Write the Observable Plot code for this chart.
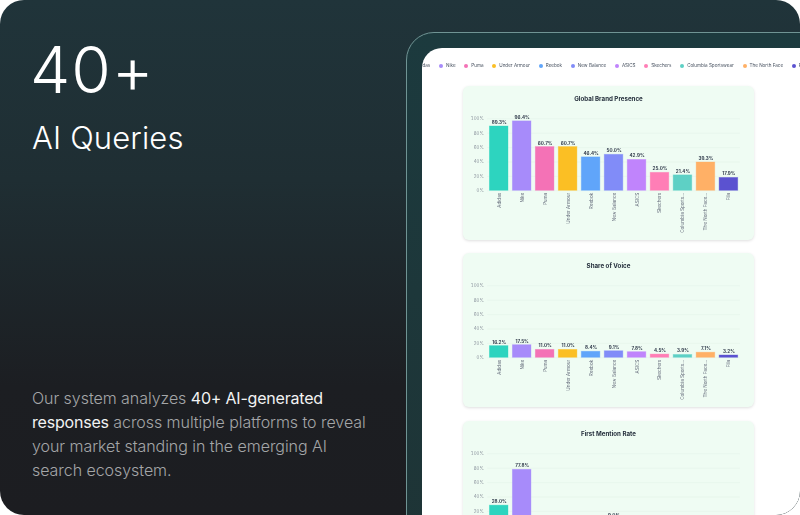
<!DOCTYPE html>
<html><head><meta charset="utf-8">
<script src="https://cdn.jsdelivr.net/npm/d3@7"></script>
<script src="https://cdn.jsdelivr.net/npm/@observablehq/plot@0.6"></script>
<style>
html,body{margin:0;padding:0;width:800px;height:515px;overflow:hidden;background:#fff;}
#root{position:relative;width:800px;height:515px;overflow:hidden;border-radius:24px;
 background:linear-gradient(180deg,#20343a 0%,#1f2e33 35%,#1c1e22 75%,#1c1d21 100%);font-family:Inter,sans-serif;color:#fff;}
#big{position:absolute;left:30px;top:33px;font-size:64px;line-height:74px;font-weight:300;letter-spacing:1px}
#sub{position:absolute;left:32px;top:120px;font-size:31px;line-height:36px;font-weight:300;letter-spacing:.15px}
#para{position:absolute;left:32px;top:386px;font-size:16px;line-height:24px;color:#a4a6a8;font-weight:300;width:350px;white-space:nowrap;letter-spacing:-.05px}
#para b{color:#f2f3f3;font-weight:400;letter-spacing:-.2px}
#frame{position:absolute;left:406px;top:32px;width:430px;height:520px;border:1px solid #6f9494;border-radius:28px;
 background:linear-gradient(180deg,#1c3a3e,#1e3436);box-sizing:border-box}
#panel{position:absolute;left:422px;top:48px;width:420px;height:500px;background:#fff;border-radius:20px 0 0 0;overflow:hidden;filter:blur(.4px)}
#legend{position:absolute;left:-13.7px;top:14px;display:flex;white-space:nowrap;font-size:4.6px;line-height:8px;color:#4b5563}
#legend span.i{display:inline-flex;align-items:center;margin-right:8.7px}
#legend i{display:inline-block;width:4px;height:4px;border-radius:50%;margin-right:3px}
.card{position:absolute;left:41px;width:291px;height:154px;background:#effcf3;border-radius:6px;box-shadow:0 1px 3px rgba(0,0,0,.13)}
.card h4{position:absolute;left:0;right:0;top:9px;margin:0;text-align:center;font-size:6.2px;line-height:8px;font-weight:700;color:#1f2937}
.card svg{position:absolute;left:0;top:0;background:transparent;overflow:visible}
</style></head><body>
<div id="root">
 <div id="big">40+</div>
 <div id="sub">AI Queries</div>
 <div id="para">Our system analyzes <b>40+ AI-generated</b><br><b>responses</b> across multiple platforms to reveal<br>your market standing in the emerging AI<br>search ecosystem.</div>
 <div id="frame"></div>
 <div id="panel"><div id="legend"></div></div>
</div>
<script>
const brands = ["Adidas","Nike","Puma","Under Armour","Reebok","New Balance","ASICS","Skechers","Columbia Sportswear","The North Face","Fila"];
const tickLabels = ["Adidas","Nike","Puma","Under Armour","Reebok","New Balance","ASICS","Skechers","Columbia Sports...","The North Face...","Fila"];
const colors = ["#2dd4bf","#a78bfa","#f472b6","#fbbf24","#60a5fa","#818cf8","#c084fc","#ff7eb6","#5ed0c5","#ffb066","#5b52d0"];
const presence = [89.3,96.4,60.7,60.7,46.4,50.0,42.9,25.0,21.4,39.3,17.9];
const voice = [16.2,17.5,11.0,11.0,8.4,9.1,7.8,4.5,3.9,7.1,3.2];
// Only these bars of the third chart are inside the picture; the rest are cropped away.
const firstMention = [28.0,77.8,null,null,null,9.0,null,null,null,null,null];
const charts = [
 {title:"Global Brand Presence",values:presence,top:38},
 {title:"Share of Voice",values:voice,top:205},
 {title:"First Mention Rate",values:firstMention,top:372.7}
];
const legend = d3.select("#legend");
brands.forEach((b,i)=>{
  const s = legend.append("span").attr("class","i");
  s.append("i").style("background",colors[i]);
  s.append("span").text(b);
});
const panel = d3.select("#panel");
for (const c of charts) {
  const data = tickLabels.map((label,i)=>({label,value:c.values[i],color:colors[i]})).filter(d=>d.value!=null);
  const card = panel.append("div").attr("class","card").style("top",c.top+"px");
  card.append("h4").text(c.title);
  const svg = Plot.plot({
    width:291,height:154,marginLeft:24.2,marginRight:14.1,marginTop:32.3,marginBottom:49.7,
    style:{background:"transparent",fontFamily:"Inter, sans-serif",fontSize:"4.4px",overflow:"visible"},
    x:{domain:tickLabels,paddingInner:0.19,paddingOuter:0.095,align:0.5,round:false,label:null},
    y:{domain:[0,100],label:null},
    color:{type:"identity"},
    marks:[
      Plot.gridY([0,20,40,60,80,100],{stroke:"#d9ece0",strokeOpacity:.6,strokeWidth:.5}),
      Plot.axisY([0,20,40,60,80,100],{tickSize:0,tickPadding:4,tickFormat:d=>d+"%",fill:"#8a929c",fontSize:4.4}),
      Plot.axisX({tickSize:0,tickRotate:-90,tickPadding:2,fill:"#6b7280",fontSize:4.6,textAnchor:"end"}),
      Plot.barY(data,{x:"label",y:"value",fill:"color",stroke:"color",strokeOpacity:.45,strokeWidth:.8}),
      Plot.text(data,{x:"label",y:"value",text:d=>d.value.toFixed(1)+"%",dy:-4,fill:"#374151",fontWeight:700,fontSize:4.6})
    ]
  });
  card.node().appendChild(svg);
}
</script>
</body></html>
